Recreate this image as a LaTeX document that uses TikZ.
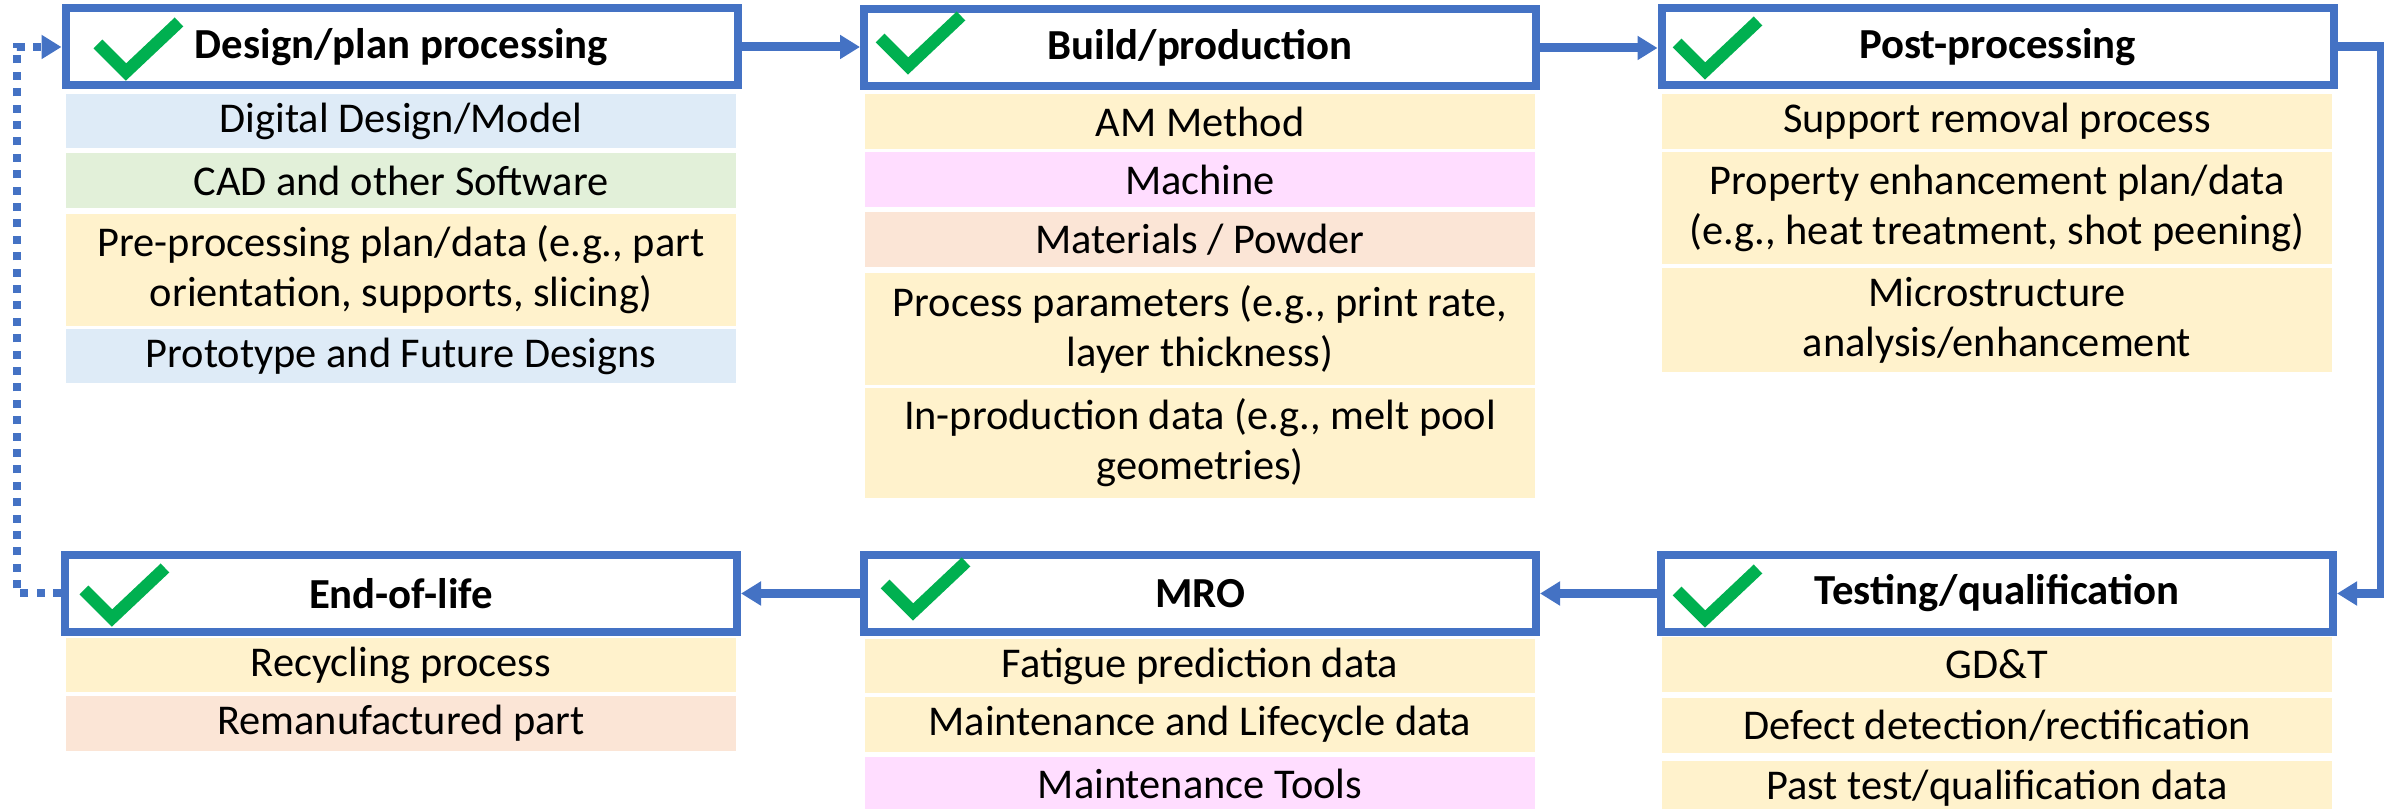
\documentclass[tikz,border=0pt]{standalone}
\usepackage{fontspec}
\setmainfont{Carlito}
\usetikzlibrary{arrows.meta}
\definecolor{accblue}{HTML}{4472C4}
\definecolor{ckgreen}{HTML}{00B050}
\definecolor{cBlue}{HTML}{DEEBF7}
\definecolor{cGreen}{HTML}{E2F0D9}
\definecolor{cYel}{HTML}{FFF2CC}
\definecolor{cPink}{HTML}{FFDDFF}
\definecolor{cPeach}{HTML}{FBE5D6}
\begin{document}
\begin{tikzpicture}[x=0.25pt,y=-0.25pt,
  hdr/.style={draw=accblue, line width=2pt, fill=white, minimum width=168pt, minimum height=19.25pt, inner sep=0pt, font=\fontsize{10.7}{13}\selectfont\bfseries},
  item/.style 2 args={fill=#1, minimum width=167.5pt, minimum height=#2*0.25pt, inner sep=0pt, align=center, font=\fontsize{10.6}{12.5}\selectfont},
  conn/.style={draw=accblue, line width=2.25pt, -{Triangle[length=5pt,width=5.75pt]}},
  dconn/.style={conn, line width=2pt, dash pattern=on 2pt off 2.1pt},
  chk/.pic={\draw[ckgreen, line width=3.1pt, line join=miter] (-28,-28) -- (0,0) -- (53,-50);}
]
\useasboundingbox (0,0) rectangle (2384,809);

% stage headers
\node[hdr] (B1) at (401.5,47) {Design/plan processing};
\node[hdr] (B2) at (1200,48) {Build/production};
\node[hdr] (B3) at (1997.5,47) {Post-processing};
\node[hdr] (EOL) at (401,593.5) {End-of-life};
\node[hdr] (MRO) at (1200,593.5) {MRO};
\node[hdr] (TQ) at (1997,593.5) {Testing/qualification};

% check marks
\pic at (126,72) {chk};
\pic at (908,66) {chk};
\pic at (1705,71) {chk};
\pic at (112,618) {chk};
\pic at (913,612) {chk};
\pic at (1705,619) {chk};

% column 1
\node[item={cBlue}{54}] (d1) at (401,121) {Digital Design/Model};
\node[item={cGreen}{55}] (d2) at (401,180.5) {CAD and other Software};
\node[item={cYel}{112}] (d3) at (401,270) {Pre-processing plan/data (e.g., part\\orientation, supports, slicing)};
\node[item={cBlue}{54}] (d4) at (401,356) {Prototype and Future Designs};

% column 2
\node[item={cYel}{55}] (p1) at (1200,121.5) {AM Method};
\node[item={cPink}{55}] (p2) at (1200,179.5) {Machine};
\node[item={cPeach}{55}] (p3) at (1200,239.5) {Materials / Powder};
\node[item={cYel}{112}] (p4) at (1200,329) {Process parameters (e.g., print rate,\\layer thickness)};
\node[item={cYel}{110}] (p5) at (1200,443) {In-production data (e.g., melt pool\\geometries)};

% column 3
\node[item={cYel}{55}] (q1) at (1997,121.5) {Support removal process};
\node[item={cYel}{112}] (q2) at (1997,208) {Property enhancement plan/data\\(e.g., heat treatment, shot peening)};
\node[item={cYel}{104}] (q3) at (1997,320) {Microstructure\\analysis/enhancement};

% end of life
\node[item={cYel}{54}] (e1) at (401,665) {Recycling process};
\node[item={cPeach}{55}] (e2) at (401,723.5) {Remanufactured part};

% MRO
\node[item={cYel}{54}] (m1) at (1200,666) {Fatigue prediction data};
\node[item={cYel}{55}] (m2) at (1200,724.5) {Maintenance and Lifecycle data};
\node[item={cPink}{54}] (m3) at (1200,784) {Maintenance Tools};

% testing
\node[item={cYel}{55}] (t1) at (1997,664.5) {GD\&T};
\node[item={cYel}{55}] (t2) at (1997,725.5) {Defect detection/rectification};
\node[item={cYel}{54}] (t3) at (1997,788) {Past test/qualification data};

% connectors
\coordinate (rc) at (2381,47);
\coordinate (lc) at (17,47);
\draw[conn] (B1.east) -- (B1.east -| B2.west);
\draw[conn] (B2.east) -- (B2.east -| B3.west);
\draw[conn] (B3.east) -- (rc) |- (TQ.east);
\draw[conn] (TQ.west) -- (MRO.east);
\draw[conn] (MRO.west) -- (EOL.east);
\draw[dconn] (EOL.west) -| (lc) -- (B1.west);
\end{tikzpicture}
\end{document}
